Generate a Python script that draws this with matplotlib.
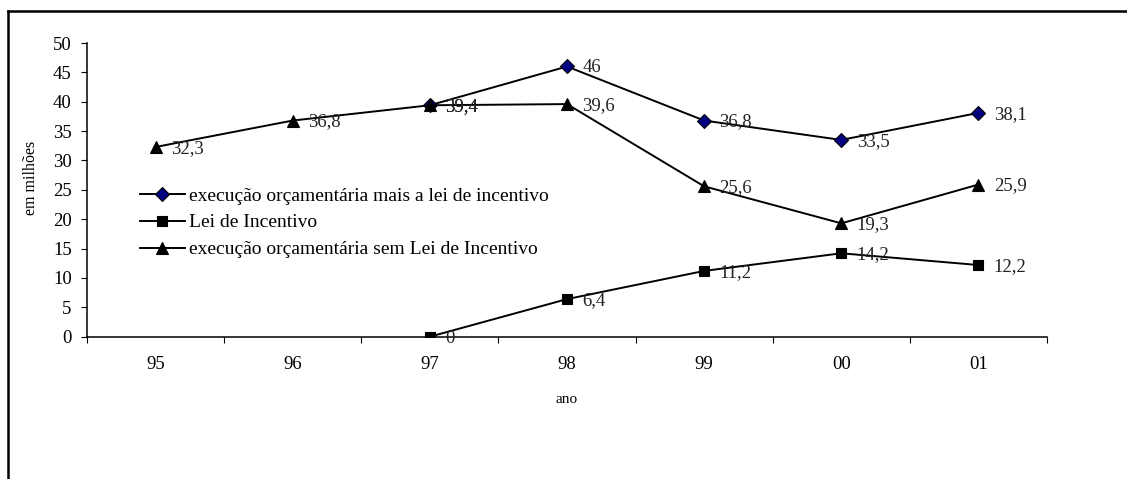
import matplotlib
matplotlib.use('Agg')
import matplotlib.pyplot as plt
from matplotlib.lines import Line2D
import numpy as np

plt.rcParams['font.family'] = ['Liberation Serif', 'DejaVu Serif']

anos = ['95', '96', '97', '98', '99', '00', '01']
exec_mais_lei = [np.nan, np.nan, 39.4, 46, 36.8, 33.5, 38.1]
lei_incentivo = [np.nan, np.nan, 0, 6.4, 11.2, 14.2, 12.2]
exec_sem_lei = [32.3, 36.8, 39.4, 39.6, 25.6, 19.3, 25.9]

series = [
    ('execução orçamentária mais a lei de incentivo', exec_mais_lei, 'D', '#000080', 7),
    ('Lei de Incentivo', lei_incentivo, 's', 'black', 7),
    ('execução orçamentária sem Lei de Incentivo', exec_sem_lei, '^', 'black', 9),
]

fig = plt.figure(figsize=(11.27, 4.79), dpi=100)
ax = fig.add_axes([87/1127, 142.3/479, 960/1127, 293.7/479])

x = np.arange(len(anos))
for nome, vals, mk, cor, ms in series:
    ax.plot(x, vals, color='black', lw=1.4, marker=mk, markersize=ms,
            markerfacecolor=cor, markeredgecolor='black', markeredgewidth=0.8,
            label=nome)
    for xi, v in zip(x, vals):
        if np.isnan(v):
            continue
        ax.annotate(f'{v:g}'.replace('.', ','), (xi, v), xytext=(11, -1),
                    textcoords='offset points', ha='left', va='center',
                    fontsize=13.5, color='#222222')

ax.set_xlim(-0.5, len(anos) - 0.5)
ax.set_ylim(0, 50)
ax.set_yticks(range(0, 51, 5))
ax.set_xticks(np.arange(-0.5, len(anos), 1))
ax.set_xticklabels([])
ax.set_xticks(x, minor=True)
ax.set_xticklabels(anos, minor=True)
ax.tick_params(axis='x', which='minor', length=0, pad=14, labelsize=13.5)
ax.tick_params(axis='x', which='major', length=4, direction='out', width=0.8)
ax.tick_params(axis='y', length=4, direction='out', width=0.8, labelsize=13.5, pad=7)

for s in ['top', 'right']:
    ax.spines[s].set_visible(False)
for s in ['left', 'bottom']:
    ax.spines[s].set_linewidth(1.1)

ax.set_xlabel('ano', fontsize=11, labelpad=14)
ax.set_ylabel('em milhões', fontsize=11.5)
ax.yaxis.set_label_coords(-0.05, 0.54)

ax.legend(loc='upper left', bbox_to_anchor=(0.0552, 0.51), frameon=False,
          fontsize=14, handlelength=2.3, handletextpad=0.2, labelspacing=0.48,
          borderaxespad=0, borderpad=0)

# moldura externa (cortada à direita e embaixo)
fig.add_artist(Line2D([8/1127, 1], [1 - 11/479, 1 - 11/479], color='black', lw=1.8,
                      transform=fig.transFigure))
fig.add_artist(Line2D([8/1127, 8/1127], [0, 1 - 11/479], color='black', lw=1.8,
                      transform=fig.transFigure))

fig.savefig('out.png', dpi=100)
